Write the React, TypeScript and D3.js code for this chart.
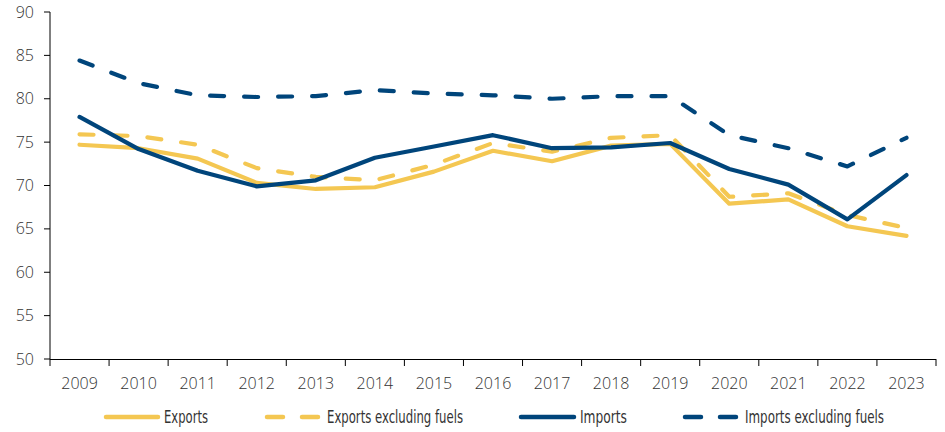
import React from "react";
import * as d3 from "d3";

const years = ["2009","2010","2011","2012","2013","2014","2015","2016","2017","2018","2019","2020","2021","2022","2023"];
const exportsVals = [74.7, 74.3, 73.1, 70.3, 69.6, 69.8, 71.6, 74.0, 72.8, 74.6, 74.8, 67.9, 68.4, 65.3, 64.2];
const exportsExFuel = [75.9, 75.7, 74.7, 72.0, 71.0, 70.6, 72.4, 74.9, 73.9, 75.5, 75.8, 68.7, 69.1, 66.6, 65.1];
const importsVals = [77.9, 74.2, 71.7, 69.9, 70.6, 73.2, 74.5, 75.8, 74.3, 74.4, 74.9, 71.9, 70.1, 66.1, 71.2];
const importsExFuel = [84.4, 81.8, 80.4, 80.2, 80.3, 81.0, 80.6, 80.4, 80.0, 80.3, 80.3, 75.8, 74.3, 72.2, 75.5];
const yTicks = [50, 55, 60, 65, 70, 75, 80, 85, 90];
const seriesNames = ["Exports", "Exports excluding fuels", "Imports", "Imports excluding fuels"];

const YELLOW = "#F4C752";
const NAVY = "#00457B";

export default function App() {
  const W = 945, H = 432;
  const x = d3.scaleBand<string>().domain(years).range([50, 936]);
  const y = d3.scaleLinear().domain([50, 90]).range([359, 12]);
  const line = d3.line<number>().x((_, i) => (x(years[i]) as number) + x.bandwidth() / 2).y(d => y(d));

  const series = [
    { name: seriesNames[0], data: exportsVals, color: YELLOW, dash: undefined as string | undefined },
    { name: seriesNames[1], data: exportsExFuel, color: YELLOW, dash: "14 20" },
    { name: seriesNames[2], data: importsVals, color: NAVY, dash: undefined },
    { name: seriesNames[3], data: importsExFuel, color: NAVY, dash: "14 20" },
  ];
  const legend = [
    { x0: 104, x1: 160, tx: 164, tw: 44 },
    { x0: 265, x1: 320, tx: 327, tw: 136 },
    { x0: 519, x1: 576, tx: 580, tw: 47 },
    { x0: 683, x1: 738, tx: 745, tw: 139 },
  ];
  const boundaries = years.map(yr => x(yr) as number).concat([936]);
  const font = "'Open Sans', sans-serif";

  return (
    <svg width={W} height={H} style={{ position: "absolute", left: 0, top: 0 }}>
      <rect width={W} height={H} fill="#fff" />
      {/* y axis */}
      <line x1={50} x2={50} y1={12} y2={359} stroke="#000" strokeWidth={1} />
      {yTicks.map(t => (
        <g key={t}>
          <line x1={44} x2={50} y1={y(t)} y2={y(t)} stroke="#000" strokeWidth={1} />
          <text x={34} y={y(t)} dy="0.35em" textAnchor="end" fontFamily={font} fontWeight={300} fontSize={16} fill="#333">{t}</text>
        </g>
      ))}
      {/* x axis */}
      <line x1={50} x2={936} y1={359.5} y2={359.5} stroke="#000" strokeWidth={1} />
      {boundaries.map((bx, i) => (
        <line key={i} x1={bx} x2={bx} y1={359} y2={366} stroke="#000" strokeWidth={1} />
      ))}
      {years.map(yr => (
        <text key={yr} x={(x(yr) as number) + x.bandwidth() / 2} y={389} textAnchor="middle" fontFamily={font} fontWeight={300} fontSize={16} fill="#333">{yr}</text>
      ))}
      {/* lines */}
      {series.map(s => (
        <path key={s.name} d={line(s.data) || ""} fill="none" stroke={s.color} strokeWidth={4.2}
          strokeDasharray={s.dash} strokeLinecap="round" strokeLinejoin="round" />
      ))}
      {/* legend */}
      {series.map((s, i) => (
        <g key={s.name}>
          <line x1={legend[i].x0 + 2} x2={legend[i].x1 - 2} y1={417} y2={417} stroke={s.color} strokeWidth={4.5}
            strokeDasharray={s.dash ? "16 19" : undefined} strokeLinecap="round" />
          <text x={legend[i].tx} y={423} fontFamily="'Liberation Sans Narrow', 'DejaVu Sans Condensed', sans-serif" fontSize={17}
            fill="#333" textLength={legend[i].tw} lengthAdjust="spacingAndGlyphs">{s.name}</text>
        </g>
      ))}
    </svg>
  );
}
